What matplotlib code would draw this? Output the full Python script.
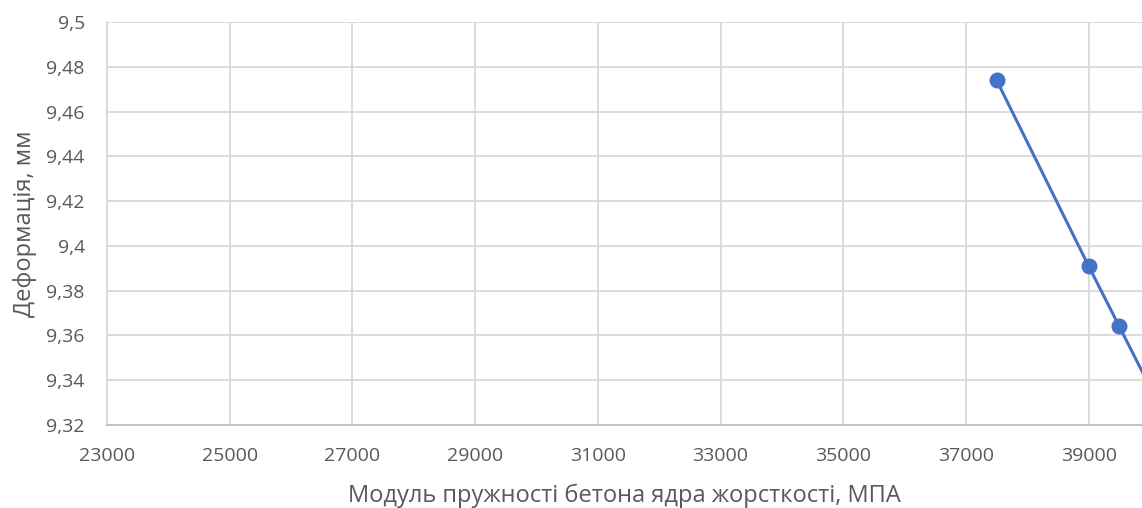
import matplotlib
matplotlib.use("Agg")
import matplotlib.pyplot as plt
from matplotlib.ticker import FixedLocator, FuncFormatter

plt.rcParams['font.family'] = ['Open Sans', 'DejaVu Sans']

# Elastic modulus of the core concrete (MPa) and resulting deformation (mm)
modulus = [37500, 39000, 39500, 40000]
deformation = [9.474, 9.391, 9.364, 9.337]

x_ticks = [23000, 25000, 27000, 29000, 31000, 33000, 35000, 37000, 39000]
y_ticks = [9.32, 9.34, 9.36, 9.38, 9.40, 9.42, 9.44, 9.46, 9.48, 9.50]

grid_col = '#d9d9d9'
text_col = '#595959'
line_col = '#4472C4'

fig = plt.figure(figsize=(11.42, 5.08), dpi=100)
ax = fig.add_axes([0.0937, 0.1634, 0.9063, 0.7933])

ax.plot(modulus, deformation, color=line_col, lw=2.2, marker='o',
        markersize=10.5, zorder=3, clip_on=True)

ax.set_xlim(23000, 39870)
ax.set_ylim(9.32, 9.50)
ax.xaxis.set_major_locator(FixedLocator(x_ticks))
ax.yaxis.set_major_locator(FixedLocator(y_ticks))
ax.yaxis.set_major_formatter(FuncFormatter(lambda v, p: f"{v:.2f}".rstrip('0').rstrip('.').replace('.', ',')))
ax.xaxis.set_major_formatter(FuncFormatter(lambda v, p: f"{int(v)}"))

ax.grid(True, color=grid_col, lw=1.3)
ax.set_axisbelow(True)
for s in ['top', 'right']:
    ax.spines[s].set_visible(False)
ax.spines['left'].set_color(grid_col)
ax.spines['left'].set_linewidth(1.3)
ax.spines['bottom'].set_color('#bfbfbf')
ax.spines['bottom'].set_linewidth(1.3)

ax.tick_params(axis='both', length=0, labelsize=14, colors=text_col)
ax.tick_params(axis='y', pad=16)
ax.tick_params(axis='x', pad=16)

ax.set_xlabel('Модуль пружності бетона ядра жорсткості, МПА', fontsize=17,
              color=text_col, labelpad=13)
ax.set_ylabel('Деформація, мм', fontsize=17, color=text_col, labelpad=7)

fig.savefig('out.png', dpi=100)
